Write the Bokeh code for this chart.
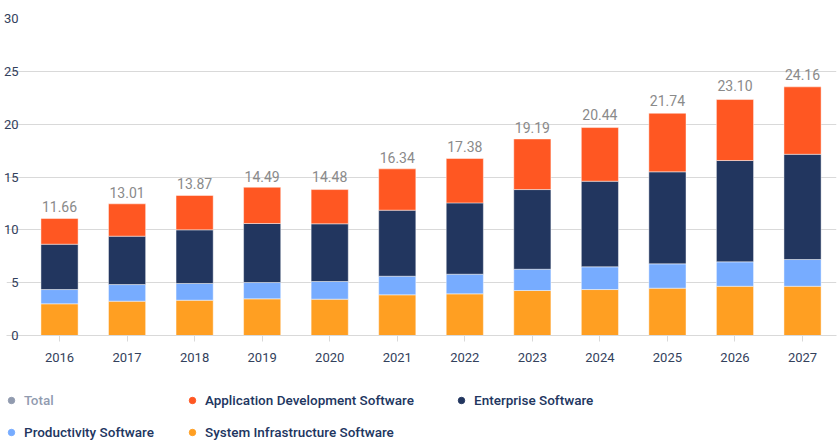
from bokeh.plotting import figure
from bokeh.layouts import column
from bokeh.models import ColumnDataSource, Legend, LegendItem, SingleIntervalTicker, FixedTicker, Range1d
from bokeh.core.properties import value
from bokeh.embed import file_html
from bokeh.resources import INLINE

years = ["2016", "2017", "2018", "2019", "2020", "2021", "2022", "2023", "2024", "2025", "2026", "2027"]
system_infra = [3.00, 3.25, 3.34, 3.47, 3.44, 3.85, 3.94, 4.26, 4.35, 4.48, 4.66, 4.66]
productivity = [1.35, 1.57, 1.58, 1.54, 1.67, 1.76, 1.86, 2.01, 2.15, 2.30, 2.31, 2.53]
enterprise = [4.29, 4.58, 5.08, 5.59, 5.46, 6.25, 6.75, 7.54, 8.10, 8.71, 9.59, 9.96]
app_dev = [2.43, 3.06, 3.25, 3.43, 3.24, 3.91, 4.20, 4.79, 5.08, 5.54, 5.77, 6.38]
totals = [11.66, 13.01, 13.87, 14.49, 14.48, 16.34, 17.38, 19.19, 20.44, 21.74, 23.10, 24.16]

series = ["system_infra", "productivity", "enterprise", "app_dev"]
colors = ["#FF9F22", "#77ACFF", "#22365F", "#FF5722"]
names = {
    "system_infra": "System Infrastructure Software",
    "productivity": "Productivity Software",
    "enterprise": "Enterprise Software",
    "app_dev": "Application Development Software",
}

year_num = [int(y) for y in years]
src = ColumnDataSource(dict(year=year_num, system_infra=system_infra, productivity=productivity,
                            enterprise=enterprise, app_dev=app_dev))
tot_src = ColumnDataSource(dict(year=year_num, totals=totals, labels=["%.2f" % t for t in totals]))

p = figure(width=840, height=392, output_backend="svg", toolbar_location=None,
           x_range=Range1d(year_num[0] - 0.785, year_num[-1] + 0.503), y_range=Range1d(0, 30),
           min_border_top=18, min_border_right=4, min_border_left=0, min_border_bottom=57)
p.outline_line_color = None
p.background_fill_color = "white"
p.border_fill_color = "white"

p.vbar_stack(series, x="year", width=0.55, source=src, color=colors,
             line_color="white", line_alpha=0.45, line_width=1)

p.text(x="year", y="totals", text="labels", source=tot_src, text_align="center",
       text_baseline="bottom", text_font=value("Roboto"), text_font_size="14px",
       text_color="#8A8A8A")

p.yaxis.ticker = SingleIntervalTicker(interval=5)
p.yaxis.axis_line_color = None
p.yaxis.major_tick_line_color = None
p.yaxis.minor_tick_line_color = None
p.yaxis.major_tick_out = 0
p.yaxis.major_tick_in = 0
p.yaxis.major_label_standoff = -16
p.yaxis.major_label_text_font = "Roboto"
p.yaxis.major_label_text_font_size = "13px"
p.yaxis.major_label_text_color = "#33415C"

p.xaxis.ticker = FixedTicker(ticks=year_num)
p.xaxis.axis_line_color = "#D9D9D9"
p.xaxis.major_tick_line_color = "#D9D9D9"
p.xaxis.minor_tick_line_color = None
p.xaxis.major_tick_out = 6
p.xaxis.major_tick_in = 0
p.xaxis.major_label_standoff = 11
p.xaxis.major_label_text_font = "Roboto"
p.xaxis.major_label_text_font_size = "13px"
p.xaxis.major_label_text_color = "#33415C"

p.xgrid.grid_line_color = None
p.ygrid.grid_line_color = "#D9D9D9"
p.ygrid.ticker = SingleIntervalTicker(interval=5)

# legend figure (no axes)
lf = figure(width=840, height=48, output_backend="svg", toolbar_location=None,
            x_range=Range1d(0, 1), y_range=Range1d(0, 1),
            x_axis_location=None, y_axis_location=None,
            min_border=0, min_border_left=0, min_border_right=0, min_border_top=0, min_border_bottom=0)
lf.grid.visible = False
lf.outline_line_color = None

nan = float("nan")
tot_r = lf.scatter(x=[nan], y=[nan], size=8, color="#22365F", visible=False)
dummy = {}
for s, c in zip(series, colors):
    dummy[s] = lf.scatter(x=[nan], y=[nan], marker="circle", size=8, color=c)

style = dict(orientation="vertical", click_policy="hide", border_line_color=None,
             background_fill_alpha=0, label_text_font="Roboto Medium, Roboto",
             label_text_font_size="13.5px", label_text_color="#22365F",
             glyph_width=16, glyph_height=16, label_standoff=5, spacing=16, padding=0, margin=0,
             label_height=16, inactive_fill_color="white", inactive_fill_alpha=0.5)

leg1 = Legend(items=[LegendItem(label="Total", renderers=[tot_r]),
                     LegendItem(label=names["productivity"], renderers=[dummy["productivity"]])],
              location=(-3, 0), **style)
leg2 = Legend(items=[LegendItem(label=names["app_dev"], renderers=[dummy["app_dev"]]),
                     LegendItem(label=names["system_infra"], renderers=[dummy["system_infra"]])],
              location=(178, 0), **style)
leg3 = Legend(items=[LegendItem(label=names["enterprise"], renderers=[dummy["enterprise"]])],
              location=(447, 32), **style)
for lg in (leg1, leg2, leg3):
    lf.add_layout(lg, "center")

layout = column(p, lf, spacing=0)
open("out.html", "w").write(file_html(layout, INLINE))
